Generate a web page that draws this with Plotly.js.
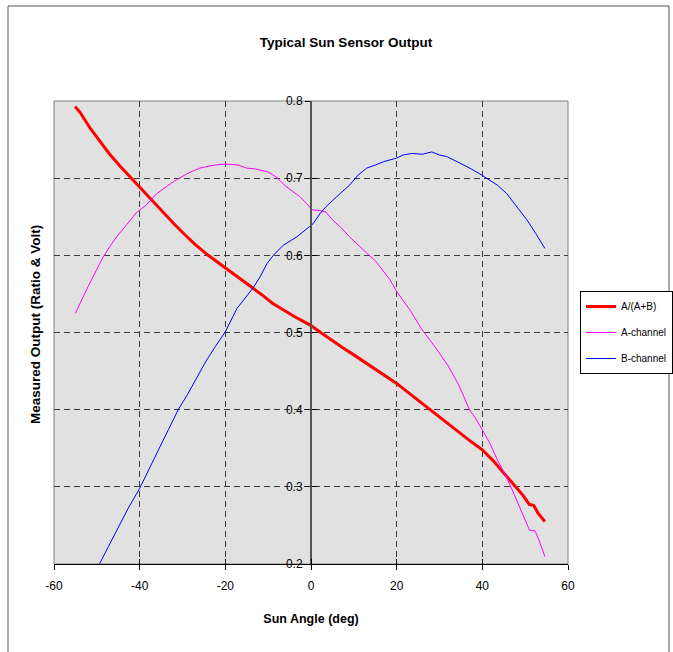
<!DOCTYPE html>
<html>
<head>
<meta charset="utf-8">
<script src="https://cdn.plot.ly/plotly-3.0.1.min.js"></script>
<style>html,body{margin:0;padding:0;background:#fff;}#chart{width:673px;height:652px;}</style>
</head>
<body>
<div id="chart"></div>
<script>
// ---- data ----
var ratioX = [-55.1, -54, -51.6, -49.3, -47, -44.5, -42, -39.5, -37, -34.5, -32, -29.5, -27, -24, -20, -17, -14, -11.5, -9, -6.5, -4, -2, 0, 2.5, 5, 7.5, 10, 12.5, 15, 17.5, 20, 22.5, 25, 27.5, 30, 32.5, 35, 37.5, 40, 42.5, 45, 46.5, 48, 49.5, 51, 52, 53, 54, 54.6];
var ratioY = [0.793, 0.786, 0.765, 0.748, 0.731, 0.715, 0.700, 0.685, 0.670, 0.655, 0.641, 0.627, 0.614, 0.600, 0.584, 0.572, 0.560, 0.549, 0.538, 0.529, 0.521, 0.515, 0.509, 0.499, 0.489, 0.480, 0.471, 0.462, 0.453, 0.444, 0.434, 0.423, 0.412, 0.401, 0.390, 0.380, 0.369, 0.358, 0.348, 0.334, 0.318, 0.308, 0.298, 0.289, 0.277, 0.276, 0.266, 0.260, 0.255];

var aX = [-55, -53.5, -52, -50, -48.5, -47, -45.4, -43, -40.8, -38.5, -36, -33.5, -31.4, -28.5, -26, -23.5, -21, -19, -17, -15, -13, -10, -8, -6, -4, -2.6, -1, 0.2, 2, 3.5, 5, 7, 9, 11, 13, 15, 17, 18.5, 20, 23, 26, 29, 32, 34.5, 37, 38.5, 40, 41.8, 43.5, 45.5, 47.3, 49, 51, 52.3, 53.5, 54.6];
var aY = [0.525, 0.543, 0.560, 0.582, 0.598, 0.611, 0.624, 0.640, 0.655, 0.665, 0.680, 0.690, 0.698, 0.707, 0.713, 0.716, 0.718, 0.718, 0.717, 0.713, 0.712, 0.708, 0.701, 0.690, 0.682, 0.676, 0.667, 0.659, 0.658, 0.656, 0.646, 0.636, 0.624, 0.613, 0.603, 0.593, 0.579, 0.568, 0.553, 0.530, 0.503, 0.481, 0.457, 0.432, 0.400, 0.388, 0.374, 0.356, 0.335, 0.314, 0.292, 0.270, 0.244, 0.243, 0.227, 0.2095];

var bX = [-50.5, -49.3, -47.3, -45, -42.7, -40, -37.8, -35.6, -33.3, -31, -28.8, -26.7, -24.5, -22.3, -20, -17.3, -13.5, -11.9, -10.3, -8.8, -6.5, -3.3, -1, 0.5, 2.1, 3.5, 6, 9, 11, 13, 15, 17, 20, 21.5, 23.5, 26, 28.2, 30, 31.7, 34, 36.4, 39, 41, 43.5, 45.7, 48, 50.4, 52.5, 54.6];
var bY = [0.186, 0.201, 0.2225, 0.247, 0.272, 0.298, 0.322, 0.348, 0.374, 0.400, 0.420, 0.441, 0.463, 0.482, 0.501, 0.531, 0.558, 0.572, 0.589, 0.600, 0.613, 0.624, 0.634, 0.641, 0.654, 0.663, 0.676, 0.691, 0.704, 0.713, 0.717, 0.7215, 0.726, 0.730, 0.732, 0.731, 0.734, 0.730, 0.728, 0.722, 0.715, 0.707, 0.700, 0.691, 0.680, 0.664, 0.646, 0.628, 0.609];

var names = ['A/(A+B)', 'A-channel', 'B-channel'];
var xTicks = [-60, -40, -20, 0, 20, 40, 60];
var yTicks = [0.2, 0.3, 0.4, 0.5, 0.6, 0.7, 0.8];
var yTickText = ['0.2', '0.3', '0.4', '0.5', '0.6', '0.7', '0.8'];

var FONT = 'Liberation Sans, Arial, sans-serif';

var traces = [
  {x: ratioX, y: ratioY, name: names[0], mode: 'lines', legendgroup: 'g1',
   line: {color: '#ff0000', width: 3}},
  {x: aX, y: aY, name: names[1], mode: 'lines', legendgroup: 'g2',
   line: {color: '#ff00ff', width: 1}},
  {x: bX, y: bY, name: names[2], mode: 'lines', legendgroup: 'g3',
   line: {color: '#0000ff', width: 1}},
  {x: [], y: [], xaxis: 'x2', yaxis: 'y2', showlegend: false, hoverinfo: 'skip', mode: 'lines'}
];

var W = 673, H = 652, L = 54, R = 105, T = 101, B = 88;
var pw = W - L - R, ph = H - T - B;
function px(xp) { return (xp - L) / pw; }
function py(yp) { return (H - B - yp) / ph; }

var layout = {
  width: W, height: H,
  margin: {l: L, r: R, t: T, b: B, pad: 0, autoexpand: false},
  paper_bgcolor: '#ffffff',
  plot_bgcolor: '#e1e1e1',
  font: {family: FONT, size: 12, color: '#000'},
  title: {text: 'Typical Sun Sensor Output', font: {family: FONT, size: 13.5, color: '#000', weight: 'bold'},
          xref: 'container', yref: 'container', x: 346 / W, xanchor: 'center', y: 1 - 42 / H, yanchor: 'middle'},
  showlegend: true,
  legend: {x: px(580), y: py(291), xanchor: 'left', yanchor: 'top', bgcolor: '#ffffff',
           bordercolor: '#000', borderwidth: 1, font: {family: FONT, size: 10, color: '#000'},
           traceorder: 'grouped', tracegroupgap: 7, itemwidth: 30},
  xaxis: {range: [-60, 60], tickvals: xTicks, ticktext: xTicks.map(String), showgrid: true,
          griddash: '6px,4px', gridcolor: '#3a3a3a', gridwidth: 1, zeroline: false,
          showline: true, linecolor: '#000', linewidth: 1, ticks: 'outside', ticklen: 5, tickcolor: '#000',
          ticklabelstandoff: 6,
          tickfont: {family: FONT, size: 12, color: '#000'}, fixedrange: true,
          title: {text: 'Sun Angle (deg)', font: {family: FONT, size: 12.5, color: '#000', weight: 'bold'}, standoff: 21}},
  yaxis: {range: [0.2, 0.8], tickvals: yTicks, ticktext: yTickText, showgrid: true,
          griddash: '6px,4px', gridcolor: '#3a3a3a', gridwidth: 1, zeroline: false,
          anchor: 'free', position: 0.5, showline: true, linecolor: '#555', linewidth: 2,
          ticks: 'outside', ticklen: 5, tickcolor: '#000',
          tickfont: {family: FONT, size: 12, color: '#000'}, fixedrange: true},
  xaxis2: {range: [-60, 60], tickvals: xTicks, overlaying: 'x', anchor: 'y2', side: 'bottom',
           showticklabels: false, showgrid: false, zeroline: false, showline: false,
           ticks: 'inside', ticklen: 5, tickcolor: '#000', fixedrange: true},
  yaxis2: {range: [0.2, 0.8], tickvals: yTicks, overlaying: 'y', anchor: 'free', position: 0.5,
           showticklabels: false, showgrid: false, zeroline: false, showline: false,
           ticks: 'inside', ticklen: 5, tickcolor: '#000', fixedrange: true},
  shapes: [
    {type: 'rect', xref: 'paper', yref: 'paper', x0: 0, x1: 1, y0: 0, y1: 1,
     line: {color: '#808080', width: 1}, layer: 'below'},
    {type: 'rect', xref: 'paper', yref: 'paper', x0: px(8), x1: px(669), y0: py(700), y1: py(6),
     line: {color: '#555555', width: 1}}
  ],
  annotations: [
    {text: 'Measured Output (Ratio & Volt)', xref: 'paper', yref: 'paper', x: px(35), y: py(325),
     xanchor: 'center', yanchor: 'middle', textangle: -90, showarrow: false,
     font: {family: FONT, size: 13.5, color: '#000', weight: 'bold'}}
  ]
};

Plotly.newPlot('chart', traces, layout, {displayModeBar: false, staticPlot: true});
</script>
</body>
</html>
